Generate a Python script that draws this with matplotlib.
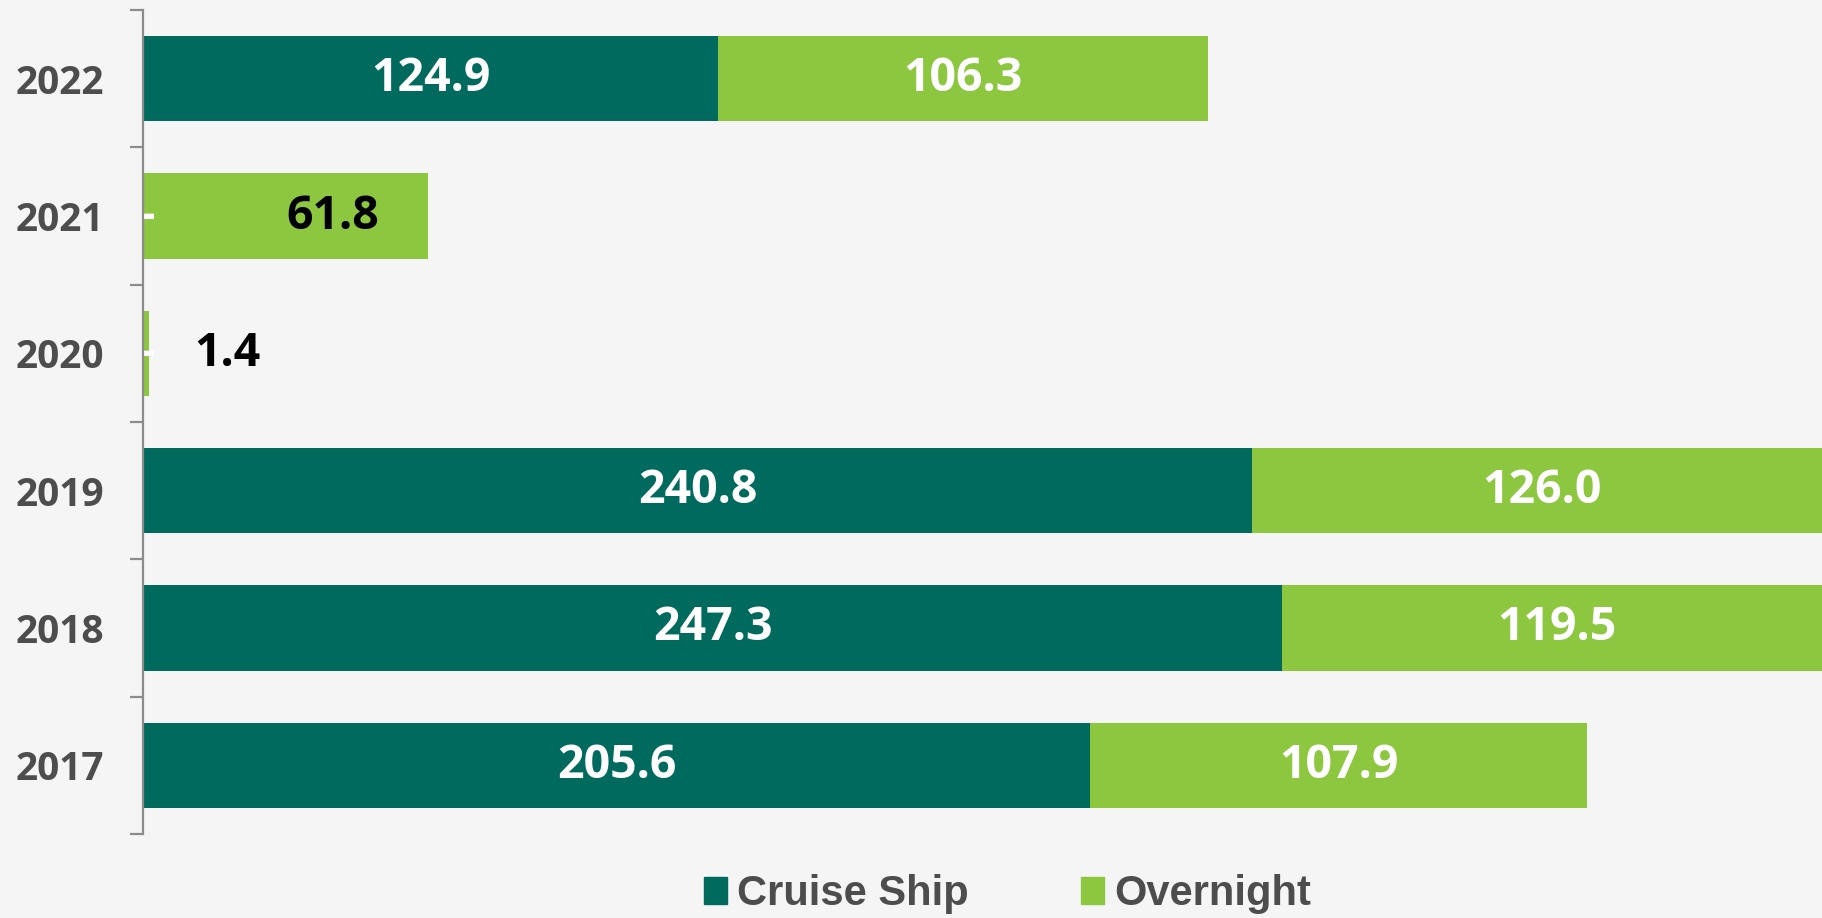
import matplotlib
matplotlib.use("Agg")
import matplotlib.pyplot as plt
from matplotlib.patches import Patch

years = ["2017", "2018", "2019", "2020", "2021", "2022"]
cruise = [205.6, 247.3, 240.8, 0.0, 0.0, 124.9]
overnight = [107.9, 119.5, 126.0, 1.4, 61.8, 106.3]
series_names = ["Cruise Ship", "Overnight"]

dark = "#006A5F"
green = "#8DC63F"
bg = "#F5F5F5"
grey_text = "#4D4D4D"
axis_grey = "#8C8C8C"

fig = plt.figure(figsize=(18.22, 9.18), dpi=100, facecolor=bg)
ax = fig.add_axes([143 / 1822, 84 / 918, 1 - 143 / 1822, (834 - 10) / 918])
ax.set_facecolor(bg)

pos = list(range(len(years)))
h = 0.62
b1 = ax.barh(pos, cruise, height=h, color=dark, zorder=2)
b2 = ax.barh(pos, overnight, left=cruise, height=h, color=green, zorder=2)

ax.set_xlim(0, 364.5)
ax.set_ylim(-0.5, len(years) - 0.5)

# data labels
for i in pos:
    if cruise[i] > 0:
        ax.text(cruise[i] / 2, i, f"{cruise[i]:.1f}", ha="center", va="center",
                color="white", fontsize=33.5, fontweight="bold", family="Open Sans", zorder=3)
        ax.text(cruise[i] + overnight[i] / 2, i, f"{overnight[i]:.1f}", ha="center", va="center",
                color="white", fontsize=33.5, fontweight="bold", family="Open Sans", zorder=3)
    else:
        # zero cruise value shown as a white dash
        ax.annotate("-", (0, i), xytext=(5, 0), textcoords="offset pixels",
                    ha="center", va="center", color="white", fontsize=32,
                    fontweight="bold", family="Open Sans", zorder=3)

# manually placed labels for 2021 and 2020
ax.annotate(f"{overnight[4]:.1f}", (overnight[4], 4), xytext=(-95, 0), textcoords="offset pixels",
            ha="center", va="center", color="black", fontsize=33.5, fontweight="bold",
            family="Open Sans", zorder=3)
ax.annotate(f"{overnight[3]:.1f}", (overnight[3], 3), xytext=(78, 0), textcoords="offset pixels",
            ha="center", va="center", color="black", fontsize=33.5, fontweight="bold",
            family="Open Sans", zorder=3)

for s in ["top", "right", "bottom"]:
    ax.spines[s].set_visible(False)
ax.spines["left"].set_color(axis_grey)
ax.spines["left"].set_linewidth(1.6)
ax.spines["left"].set_zorder(4)
ax.set_xticks([])

# boundary ticks as major, year labels as minor
ax.set_yticks([p - 0.5 for p in pos] + [len(years) - 0.5])
ax.set_yticklabels([])
ax.tick_params(axis="y", which="major", direction="out", length=9.5, width=1.6, color=axis_grey)
ax.set_yticks(pos, minor=True)
ax.set_yticklabels(years, minor=True)
ax.tick_params(axis="y", which="minor", length=0, pad=28)
for lbl in ax.get_yticklabels(minor=True):
    lbl.set_fontsize(28)
    lbl.set_fontweight("bold")
    lbl.set_color(grey_text)
    lbl.set_family("Open Sans")

handles = [Patch(color=dark), Patch(color=green)]
leg = fig.legend(handles, series_names, loc="center", bbox_to_anchor=(0.553, 0.026), ncol=2,
                 frameon=False, handlelength=0.55, handleheight=0.62, handletextpad=0.25,
                 columnspacing=2.7, prop={"family": "Liberation Sans", "weight": "bold", "size": 30})
for t in leg.get_texts():
    t.set_color(grey_text)

fig.savefig("out.png", dpi=100, facecolor=bg)
